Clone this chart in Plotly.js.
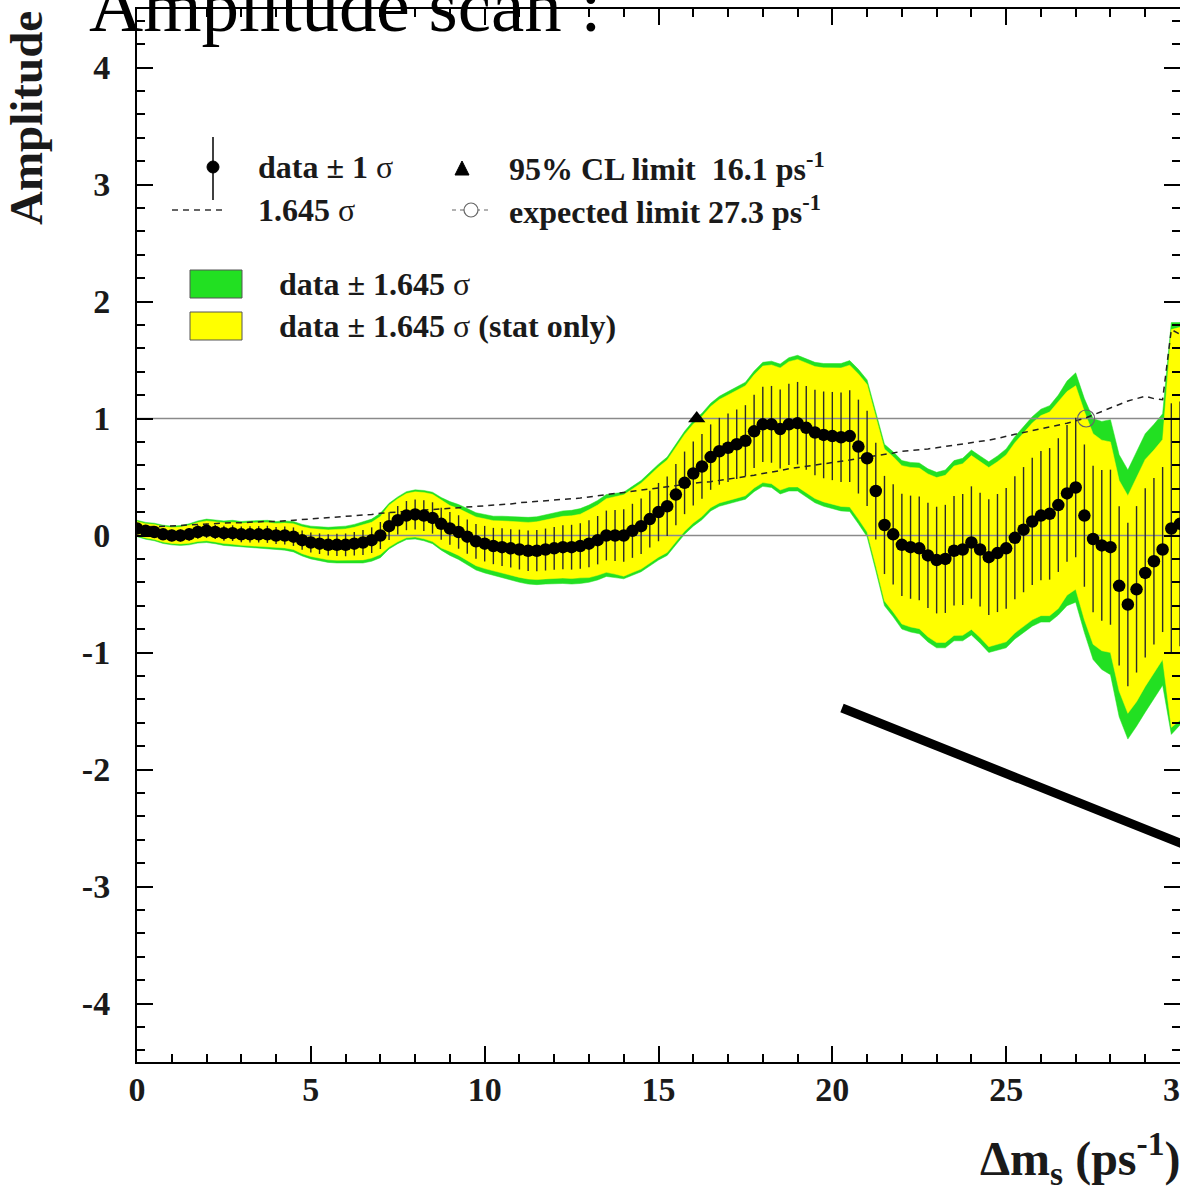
<!DOCTYPE html>
<html>
<head>
<meta charset="utf-8">
<script src="https://cdn.plot.ly/plotly-3.0.1.min.js"></script>
<style>html,body{margin:0;padding:0;background:#fff;}#chart{width:1180px;height:1190px;}</style>
</head>
<body>
<div id="chart"></div>
<script>
// Δm_s scan points (ps^-1)
const dm = [0,0.25,0.5,0.75, 1,1.25,1.5,1.75, 2,2.25,2.5,2.75, 3,3.25,3.5,3.75, 4,4.25,4.5,4.75,
  5,5.25,5.5,5.75, 6,6.25,6.5,6.75, 7,7.25,7.5,7.75, 8,8.25,8.5,8.75, 9,9.25,9.5,9.75,
  10,10.25,10.5,10.75, 11,11.25,11.5,11.75, 12,12.25,12.5,12.75, 13,13.25,13.5,13.75, 14,14.25,14.5,14.75,
  15,15.25,15.5,15.75, 16,16.25,16.5,16.75, 17,17.25,17.5,17.75, 18,18.25,18.5,18.75, 19,19.25,19.5,19.75,
  20,20.25,20.5,20.75, 21,21.25,21.5,21.75, 22,22.25,22.5,22.75, 23,23.25,23.5,23.75, 24,24.25,24.5,24.75,
  25,25.25,25.5,25.75, 26,26.25,26.5,26.75, 27,27.25,27.5,27.75, 28,28.25,28.5,28.75, 29,29.25,29.5,29.75, 30];

// measured amplitude
const amp = [0.06,0.04,0.03,0.01, 0.00,0.00,0.01,0.03, 0.04,0.03,0.02,0.02, 0.01,0.01,0.01,0.01, 0.00,0.00,-0.01,-0.04,
  -0.06,-0.07,-0.08,-0.08, -0.08,-0.07,-0.06,-0.04, 0.00,0.08,0.13,0.17, 0.18,0.17,0.15,0.10, 0.06,0.03,-0.01,-0.05,
  -0.07,-0.09,-0.10,-0.11, -0.12,-0.13,-0.13,-0.12, -0.11,-0.10,-0.10,-0.09, -0.07,-0.04,0.00,0.00, 0.00,0.04,0.08,0.14,
  0.20,0.25,0.35,0.45, 0.53,0.59,0.67,0.72, 0.75,0.78,0.81,0.89, 0.95,0.95,0.91,0.95, 0.96,0.92,0.88,0.86,
  0.85,0.84,0.85,0.76, 0.66,0.38,0.09,0.01, -0.08,-0.10,-0.11,-0.17, -0.21,-0.20,-0.13,-0.12, -0.06,-0.12,-0.185,-0.15,
  -0.11,-0.02,0.05,0.12, 0.17,0.185,0.26,0.36, 0.41,0.17,-0.03,-0.085, -0.10,-0.43,-0.59,-0.46, -0.32,-0.22,-0.12,0.06, 0.10];

// 1.645 sigma (total) — dashed curve
const tot1645 = [0.07,0.072,0.075,0.078, 0.08,0.085,0.09,0.095, 0.10,0.10,0.105,0.11, 0.11,0.115,0.115,0.12, 0.12,0.125,0.13,0.135,
  0.14,0.145,0.15,0.155, 0.16,0.165,0.175,0.18, 0.19,0.195,0.20,0.205, 0.21,0.215,0.22,0.225, 0.23,0.235,0.24,0.245,
  0.25,0.255,0.265,0.27, 0.28,0.285,0.29,0.295, 0.30,0.31,0.315,0.32, 0.33,0.34,0.35,0.36, 0.37,0.38,0.39,0.40,
  0.41,0.42,0.43,0.44, 0.45,0.455,0.46,0.47, 0.48,0.49,0.50,0.515, 0.53,0.54,0.555,0.57, 0.58,0.59,0.60,0.61,
  0.62,0.63,0.645,0.66, 0.67,0.68,0.69,0.705, 0.72,0.725,0.73,0.74, 0.75,0.76,0.77,0.78, 0.79,0.80,0.815,0.83,
  0.85,0.865,0.88,0.895, 0.91,0.925,0.94,0.96, 0.98,1.00,1.03,1.06, 1.09,1.12,1.15,1.17, 1.19,1.17,1.16,1.76, 1.72];

// 1.645 sigma (stat only)
const stat1645 = [0.06,0.061,0.064,0.066, 0.068,0.072,0.077,0.081, 0.085,0.085,0.089,0.094, 0.094,0.098,0.098,0.102, 0.102,0.106,0.11,0.115,
  0.119,0.123,0.128,0.132, 0.136,0.14,0.149,0.153, 0.162,0.179,0.184,0.189, 0.193,0.198,0.202,0.207, 0.196,0.20,0.204,0.208,
  0.213,0.217,0.225,0.23, 0.238,0.242,0.247,0.251, 0.255,0.264,0.268,0.272, 0.29,0.30,0.315,0.33, 0.348,0.357,0.367,0.376,
  0.385,0.395,0.404,0.414, 0.423,0.428,0.432,0.442, 0.451,0.461,0.47,0.484, 0.498,0.508,0.522,0.536, 0.545,0.555,0.564,0.573,
  0.583,0.592,0.606,0.62, 0.63,0.639,0.649,0.663, 0.677,0.682,0.686,0.696, 0.705,0.714,0.724,0.733, 0.743,0.752,0.766,0.78,
  0.799,0.813,0.827,0.841, 0.855,0.87,0.884,0.87, 0.87,0.89,0.90,0.90, 0.90,0.90,0.93,0.96, 0.97,0.95,0.94,1.70, 1.68];

const limitCL = 16.1;    // 95% CL limit
const limitExp = 27.3;   // expected limit
const refLevels = [0, 1];
const xTicks = [0, 5, 10, 15, 20, 25, 30];
const yTicks = [-4, -3, -2, -1, 0, 1, 2, 3, 4];
const yTickText = ['-4', '-3', '-2', '-1', '0', '1', '2', '3', '4'];

const K = 1.645;
const sig = tot1645.map(v => v / K);
const band = (w) => {
  const up = amp.map((a, i) => a + w[i]);
  const lo = amp.map((a, i) => a - w[i]);
  return {x: dm.concat(dm.slice().reverse()), y: up.concat(lo.slice().reverse())};
};
const gB = band(tot1645), yB = band(stat1645);

const serif = 'Liberation Serif, Times New Roman, serif';
const traces = [
  {x: gB.x, y: gB.y, type: 'scatter', mode: 'lines', fill: 'toself', fillcolor: '#22e022',
   line: {width: 0.5, color: '#22e022'}, hoverinfo: 'skip'},
  {x: yB.x, y: yB.y, type: 'scatter', mode: 'lines', fill: 'toself', fillcolor: '#ffff00',
   line: {width: 0.5, color: '#ffff00'}, hoverinfo: 'skip'}
];
refLevels.forEach(r => traces.push({x: [dm[0], dm[dm.length - 1]], y: [r, r], type: 'scatter', mode: 'lines',
  line: {color: '#8a8a8a', width: 1.5}}));
traces.push({x: dm, y: tot1645, type: 'scatter', mode: 'lines', line: {color: '#222', width: 1.5, dash: '6px,5px'}});
traces.push({x: dm, y: amp, type: 'scatter', mode: 'markers',
  marker: {size: 12.5, color: '#000'},
  error_y: {type: 'data', array: sig, visible: true, thickness: 1.4, width: 0, color: '#2a2a2a'}});
traces.push({x: [limitCL], y: [1], type: 'scatter', mode: 'markers',
  marker: {symbol: 'triangle-up', size: 15, color: '#000'}});
traces.push({x: [limitExp], y: [1], type: 'scatter', mode: 'markers',
  marker: {symbol: 'circle-open', size: 17, color: '#666', line: {width: 1.2, color: '#666'}}});

const L = 137, T = 9, W = 1043, H = 1053;
const px = p => (p - L) / W;
const py = p => 1 - (p - T) / H;

const shapes = [
  {type: 'line', xref: 'paper', yref: 'paper', x0: px(213), x1: px(213), y0: py(137), y1: py(200), line: {color: '#000', width: 1.5}},
  {type: 'circle', xref: 'paper', yref: 'paper', x0: px(207), x1: px(219), y0: py(161), y1: py(173), fillcolor: '#000', line: {color: '#000', width: 1}},
  {type: 'line', xref: 'paper', yref: 'paper', x0: px(172), x1: px(224), y0: py(210), y1: py(210), line: {color: '#333', width: 1.5, dash: '6px,5px'}},
  {type: 'path', xref: 'paper', yref: 'paper', path: `M ${px(455)} ${py(175)} L ${px(469)} ${py(175)} L ${px(462)} ${py(161)} Z`, fillcolor: '#000', line: {color: '#000', width: 1}},
  {type: 'line', xref: 'paper', yref: 'paper', x0: px(452), x1: px(492), y0: py(210), y1: py(210), line: {color: '#666', width: 1.2, dash: '4px,4px'}},
  {type: 'circle', xref: 'paper', yref: 'paper', x0: px(464), x1: px(478), y0: py(203), y1: py(217), fillcolor: '#fff', line: {color: '#666', width: 1.2}},
  {type: 'rect', xref: 'paper', yref: 'paper', x0: px(190), x1: px(242), y0: py(270), y1: py(298), fillcolor: '#22e022', line: {color: '#555', width: 1}},
  {type: 'rect', xref: 'paper', yref: 'paper', x0: px(190), x1: px(242), y0: py(312), y1: py(340), fillcolor: '#ffff00', line: {color: '#555', width: 1}},
  {type: 'line', xref: 'paper', yref: 'paper', x0: px(842), x1: px(1190), y0: py(708), y1: py(847), line: {color: '#000', width: 9}}
];
shapes.forEach(s => s.layer = 'above');

const lf = {family: serif, size: 32, color: '#1a1a1a'};
const ann = (x, y, text, extra) => Object.assign({xref: 'paper', yref: 'paper', x: px(x), y: py(y), text: text,
  showarrow: false, xanchor: 'left', yanchor: 'middle', font: lf, borderpad: 0}, extra || {});
const annotations = [
  ann(257, 167, '<b>data ± 1 </b>σ'),
  ann(257, 210, '<b>1.645 </b>σ'),
  ann(508, 167, '<b>95% CL limit  16.1 ps<sup>-1</sup></b>'),
  ann(508, 210, '<b>expected limit 27.3 ps<sup>-1</sup></b>'),
  ann(278, 284, '<b>data ± 1.645 </b>σ'),
  ann(278, 326, '<b>data ± 1.645 </b>σ<b> (stat only)</b>'),
  ann(88, 48, 'Amplitude scan :', {yanchor: 'bottom', font: {family: serif, size: 75, color: '#000'}}),
  ann(26, 118, '<b>Amplitude</b>', {xanchor: 'center', textangle: -90, font: {family: serif, size: 47, color: '#1a1a1a'}}),
  ann(1181, 1158, '<b>Δm<sub>s</sub> (ps<sup>-1</sup>)</b>', {xanchor: 'right', font: {family: serif, size: 48, color: '#1a1a1a'}})
];

const tickFont = {family: serif, size: 34, color: '#1a1a1a', weight: 'bold'};
const layout = {
  width: 1180, height: 1190,
  margin: {l: L, r: 0, t: T, b: 1190 - T - H, pad: 0},
  paper_bgcolor: '#fff', plot_bgcolor: '#fff',
  showlegend: false,
  xaxis: {range: [0, 30], tickvals: xTicks, ticks: 'inside', ticklen: 16, tickwidth: 2,
    tickcolor: '#000', showline: true, linecolor: '#000', linewidth: 2, mirror: 'ticks',
    showgrid: false, zeroline: false, tickfont: tickFont, ticklabelstandoff: -4, ticklabeloverflow: 'allow',
    minor: {dtick: 1, ticks: 'inside', ticklen: 8, tickwidth: 2, tickcolor: '#000', showgrid: false}},
  yaxis: {range: [-4.5, 4.5], tickvals: yTicks, ticktext: yTickText, ticks: 'inside', ticklen: 16, tickwidth: 2,
    tickcolor: '#000', showline: true, linecolor: '#000', linewidth: 2, mirror: 'ticks',
    showgrid: false, zeroline: false, tickfont: tickFont, ticklabelstandoff: 18,
    minor: {dtick: 0.2, ticks: 'inside', ticklen: 8, tickwidth: 2, tickcolor: '#000', showgrid: false}},
  shapes: shapes,
  annotations: annotations
};
Plotly.newPlot('chart', traces, layout, {staticPlot: true, displayModeBar: false});
</script>
</body>
</html>
